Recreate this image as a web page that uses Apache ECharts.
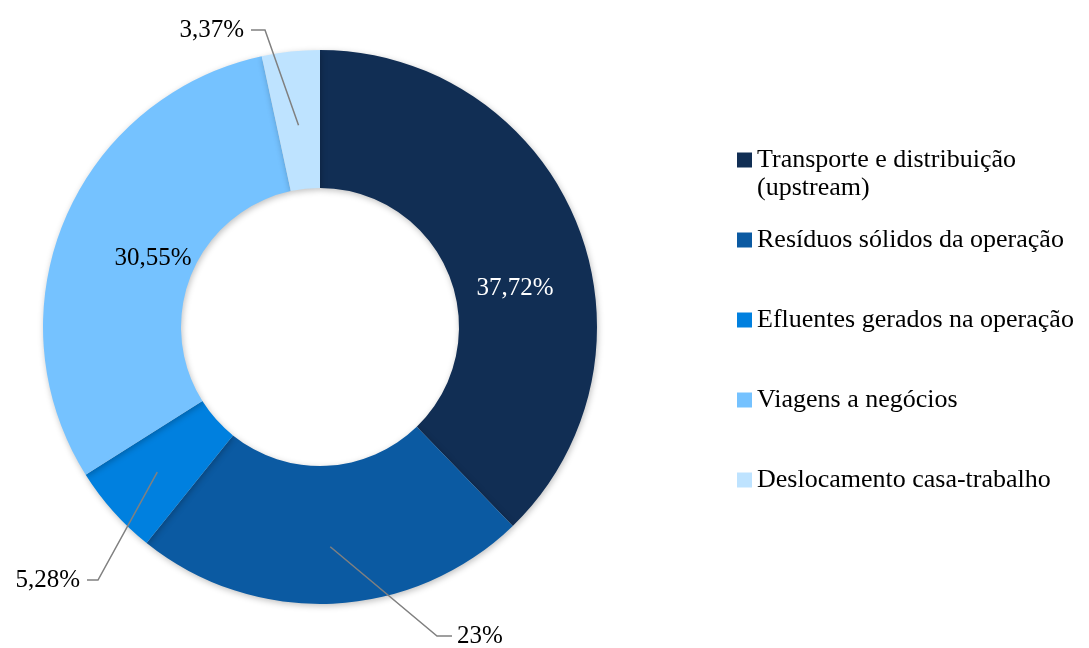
<!DOCTYPE html>
<html><head><meta charset="utf-8">
<script src="https://cdn.jsdelivr.net/npm/echarts@6/dist/echarts.min.js"></script>
<style>html,body{margin:0;padding:0;background:#fff}#c{width:1089px;height:648px}</style>
</head><body><div id="c"></div>
<script>
const categories = ['Transporte e distribuição (upstream)', 'Resíduos sólidos da operação', 'Efluentes gerados na operação', 'Viagens a negócios', 'Deslocamento casa-trabalho'];
const legendLines = [['Transporte e distribuição', '(upstream)'], ['Resíduos sólidos da operação'], ['Efluentes gerados na operação'], ['Viagens a negócios'], ['Deslocamento casa-trabalho']];
const values = [37.72, 23, 5.28, 30.55, 3.37];
const labelTexts = ['37,72%', '23%', '5,28%', '30,55%', '3,37%'];
const colors = ['#112E54', '#0B5AA2', '#0080DF', '#75C2FF', '#BEE3FF'];

// label anchor layout
const labelLayoutCfg = [
  {x: 515, y: 288, align: 'center', inside: true},
  {x: 457, y: 636, align: 'left', bend: [437, 636], end: [452, 636], rStart: 220},
  {x: 80, y: 580, align: 'right', bend: [98, 580], end: [87, 580], rStart: 218},
  {x: 153, y: 258, align: 'center', inside: true},
  {x: 244, y: 30, align: 'right', bend: [265, 30], end: [251, 30], rStart: 203}
];
const CX = 320, CY = 327, R0 = 139, R1 = 277;

const chart = echarts.init(document.getElementById('c'));
const L = 28;
chart.setOption({
  animation: false,
  color: colors,
  legend: {
    orient: 'vertical',
    left: 737,
    top: 118,
    padding: 0,
    itemWidth: 15,
    itemHeight: 15,
    itemGap: -4,
    icon: 'rect',
    selectedMode: false,
    formatter: function (name) {
      const idx = categories.indexOf(name);
      const lines = legendLines[idx];
      // keep first line centred on the icon: one empty line above, pad below
      return ' \n' + lines[0] + '\n' + (lines[1] || ' ');
    },
    textStyle: {fontFamily: 'Liberation Serif', fontSize: 26, color: '#000', lineHeight: L},
    data: categories
  },
  series: [{
    type: 'pie',
    center: [CX, CY],
    radius: [R0, R1],
    startAngle: 90,
    clockwise: true,
    z: 2,
    itemStyle: {shadowBlur: 6, shadowColor: 'rgba(0,0,0,0.25)', shadowOffsetX: 1, shadowOffsetY: 2},
    label: {show: false},
    labelLine: {show: false},
    data: categories.map((n, i) => ({name: n, value: values[i]}))
  }, {
    type: 'pie',
    center: [CX, CY],
    radius: [R0, R1],
    startAngle: 90,
    clockwise: true,
    z: 5,
    silent: true,
    avoidLabelOverlap: false,
    itemStyle: {color: 'rgba(0,0,0,0)'},
    label: {
      show: true,
      fontFamily: 'Liberation Serif',
      fontSize: 25,
      color: '#000',
      formatter: p => labelTexts[p.dataIndex]
    },
    labelLine: {show: true, lineStyle: {color: '#808080', width: 1.5}},
    labelLayout: function (p) {
      const c = labelLayoutCfg[p.dataIndex];
      const out = {x: c.x, y: c.y, align: c.align, verticalAlign: 'middle'};
      if (!c.inside && p.labelLinePoints) {
        const p0 = p.labelLinePoints[0];
        const dx = p0[0] - CX, dy = p0[1] - CY;
        const d = Math.sqrt(dx * dx + dy * dy);
        const s = [CX + dx / d * c.rStart, CY + dy / d * c.rStart];
        out.labelLinePoints = [s, c.bend, c.end];
      }
      return out;
    },
    data: categories.map((n, i) => ({
      name: n,
      value: values[i],
      label: labelLayoutCfg[i].inside
        ? {position: 'inside', color: i === 0 ? '#fff' : '#000'}
        : {position: 'outside'},
      labelLine: {show: !labelLayoutCfg[i].inside}
    }))
  }]
});
</script></body></html>
